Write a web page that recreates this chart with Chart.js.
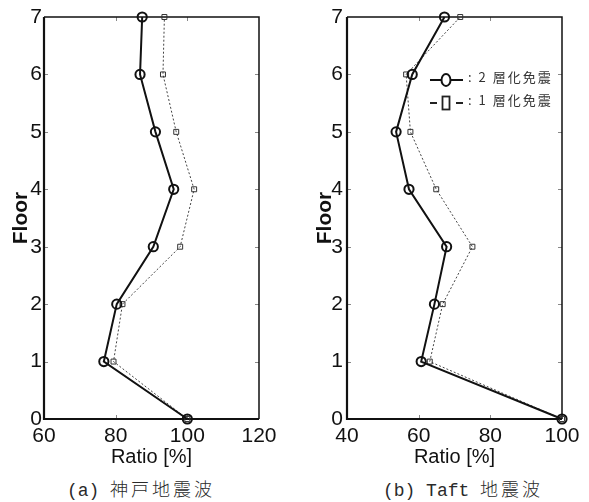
<!DOCTYPE html>
<html>
<head>
<meta charset="utf-8">
<script src="https://cdn.jsdelivr.net/npm/chart.js@4.4.1/dist/chart.umd.min.js"></script>
<style>
  html, body { margin: 0; padding: 0; background: #fff; }
  #wrap { position: relative; width: 589px; height: 502px; overflow: hidden; }
  .cv { position: absolute; top: 0; }
  .cap { position: absolute; top: 475px; white-space: nowrap; transform: translateX(-50%);
         font-family: 'Liberation Mono', 'Noto Sans CJK JP', monospace; font-size: 18px;
         color: #2a2a2a; line-height: 26px; }
  .cap .lat { letter-spacing: 0px; }
  .cap .cjk { letter-spacing: 3px; font-family: 'Noto Sans CJK JP', sans-serif; font-weight: 300; }
</style>
</head>
<body>
<div id="wrap">
  <div class="cv" style="left:0;width:295px;height:470px;"><canvas id="c1" width="295" height="470"></canvas></div>
  <div class="cv" style="left:295px;width:294px;height:470px;"><canvas id="c2" width="294" height="470"></canvas></div>
  <div class="cap" style="left:141px;"><span class="lat">(a)&nbsp;</span><span class="cjk">神戸地震波</span></div>
  <div class="cap" style="left:463px;"><span class="lat">(b)&nbsp;Taft&nbsp;</span><span class="cjk">地震波</span></div>
</div>
<script>
const floors = [0, 1, 2, 3, 4, 5, 6, 7];
const kobeTwoLayer = [100, 76.7, 80.3, 90.5, 96.2, 91.1, 86.8, 87.4];
const kobeOneLayer = [100, 79.4, 81.9, 98.0, 101.9, 96.9, 93.2, 93.6];
const taftTwoLayer = [100, 60.7, 64.4, 67.8, 57.3, 53.7, 58.2, 67.2];
const taftOneLayer = [100, 63.1, 66.7, 75.0, 64.9, 57.7, 56.5, 71.6];
const seriesLabels = [': 2 層化免震', ': 1 層化免震'];
const xTitle = 'Ratio [%]';
const yTitle = 'Floor';

const NARROW = "'Liberation Sans Narrow', 'Liberation Sans', Arial, sans-serif";

function pts(xs) { return xs.map((v, i) => ({ x: v, y: floors[i] })); }

const framePlugin = {
  id: 'frame',
  beforeDatasetsDraw(chart) {
    const { ctx, chartArea: a, scales } = chart;
    ctx.save();
    ctx.strokeStyle = '#888';
    ctx.lineWidth = 1;
    const tl = 4;
    scales.x.ticks.forEach(t => {
      if (t.value === scales.x.min || t.value === scales.x.max) return;
      const px = Math.round(scales.x.getPixelForValue(t.value)) + 0.5;
      ctx.beginPath();
      ctx.moveTo(px, a.bottom); ctx.lineTo(px, a.bottom - tl);
      ctx.moveTo(px, a.top); ctx.lineTo(px, a.top + tl);
      ctx.stroke();
    });
    scales.y.ticks.forEach(t => {
      if (t.value === scales.y.min || t.value === scales.y.max) return;
      const py = Math.round(scales.y.getPixelForValue(t.value)) + 0.5;
      ctx.beginPath();
      ctx.moveTo(a.left, py); ctx.lineTo(a.left + tl, py);
      ctx.moveTo(a.right, py); ctx.lineTo(a.right - tl, py);
      ctx.stroke();
    });
    ctx.strokeStyle = '#111';
    ctx.lineWidth = 1.5;
    ctx.beginPath();
    ctx.moveTo(a.left, a.top); ctx.lineTo(a.right, a.top); ctx.lineTo(a.right, a.bottom);
    ctx.stroke();
    ctx.lineWidth = 2.2;
    ctx.beginPath();
    ctx.moveTo(a.left, a.top); ctx.lineTo(a.left, a.bottom); ctx.lineTo(a.right, a.bottom);
    ctx.stroke();
    ctx.restore();
  }
};

const legendPlugin = {
  id: 'inlegend',
  afterDraw(chart, args, opts) {
    if (!opts.show) return;
    const { ctx } = chart;
    const ds = chart.data.datasets;
    const x0 = 135, x1 = 168, xc = 151;
    const rows = [80, 103];
    ctx.save();
    ctx.strokeStyle = ds[0].borderColor;
    ctx.lineWidth = 2;
    ctx.beginPath(); ctx.moveTo(x0, rows[0]); ctx.lineTo(xc - 5, rows[0]);
    ctx.moveTo(xc + 5, rows[0]); ctx.lineTo(x1, rows[0]); ctx.stroke();
    ctx.beginPath(); ctx.ellipse(xc, rows[0], 4.5, 6, 0, 0, Math.PI * 2); ctx.stroke();
    ctx.strokeStyle = '#222';
    ctx.lineWidth = 2;
    ctx.beginPath(); ctx.moveTo(x0, rows[1]); ctx.lineTo(x0 + 7, rows[1]);
    ctx.moveTo(x1 - 7, rows[1]); ctx.lineTo(x1, rows[1]); ctx.stroke();
    ctx.lineWidth = 1.8;
    ctx.strokeRect(xc - 3.5, rows[1] - 6.5, 7, 13);
    ctx.fillStyle = '#333';
    ctx.font = "13px 'Noto Sans CJK JP', sans-serif";
    ctx.textBaseline = 'middle';
    try { ctx.letterSpacing = '2px'; } catch (e) {}
    ctx.fillText(ds[0].label, 173, rows[0] - 3);
    ctx.fillText(ds[1].label, 173, rows[1] - 3);
    ctx.restore();
  }
};

function makeChart(id, two, one, xmin, xmax, yW, yPad, titlePad, rightPad, showLegend) {
  return new Chart(document.getElementById(id), {
    type: 'scatter',
    data: {
      datasets: [
        { label: seriesLabels[0], data: pts(two), showLine: true, borderColor: '#111', borderWidth: 2,
          pointStyle: 'circle', pointRadius: 4.6, pointBorderWidth: 2, pointBackgroundColor: 'rgba(0,0,0,0)',
          pointBorderColor: '#111', pointHoverRadius: 4.6, clip: false },
        { label: seriesLabels[1], data: pts(one), showLine: true, borderColor: '#444', borderWidth: 1,
          borderDash: [2, 2], pointStyle: 'rect', pointRadius: 3.5, pointBorderWidth: 1,
          pointBackgroundColor: 'rgba(0,0,0,0)', pointBorderColor: '#333', pointHoverRadius: 3.5, clip: false }
      ]
    },
    options: {
      responsive: false,
      animation: false,
      events: [],
      layout: { padding: { top: 17, right: rightPad, bottom: 0, left: 0 } },
      plugins: { legend: { display: false }, tooltip: { enabled: false }, inlegend: { show: showLegend } },
      scales: {
        x: {
          type: 'linear', min: xmin, max: xmax,
          grid: { display: false, drawTicks: false },
          border: { display: false },
          ticks: { stepSize: 20, padding: 5, color: '#111', font: { family: NARROW, size: 21 }, maxRotation: 0 },
          title: { display: true, text: xTitle, color: '#111', font: { family: NARROW, size: 20 }, padding: { top: 0, bottom: 1 } },
          afterFit(s) { s.height = 51; }
        },
        y: {
          type: 'linear', min: 0, max: 7,
          grid: { display: false, drawTicks: false },
          border: { display: false },
          ticks: { stepSize: 1, padding: yPad, color: '#111', font: { family: NARROW, size: 21 } },
          title: { display: true, text: yTitle, color: '#111', font: { family: NARROW, size: 21, weight: 'bold' }, padding: { top: titlePad, bottom: 0 } },
          afterFit(s) { s.width = yW; }
        }
      }
    },
    plugins: [framePlugin, legendPlugin]
  });
}

makeChart('c1', kobeTwoLayer, kobeOneLayer, 60, 120, 44, 2, 9, 36, false);
makeChart('c2', taftTwoLayer, taftOneLayer, 40, 100, 52, 4, 18, 27, true);
</script>
</body>
</html>
